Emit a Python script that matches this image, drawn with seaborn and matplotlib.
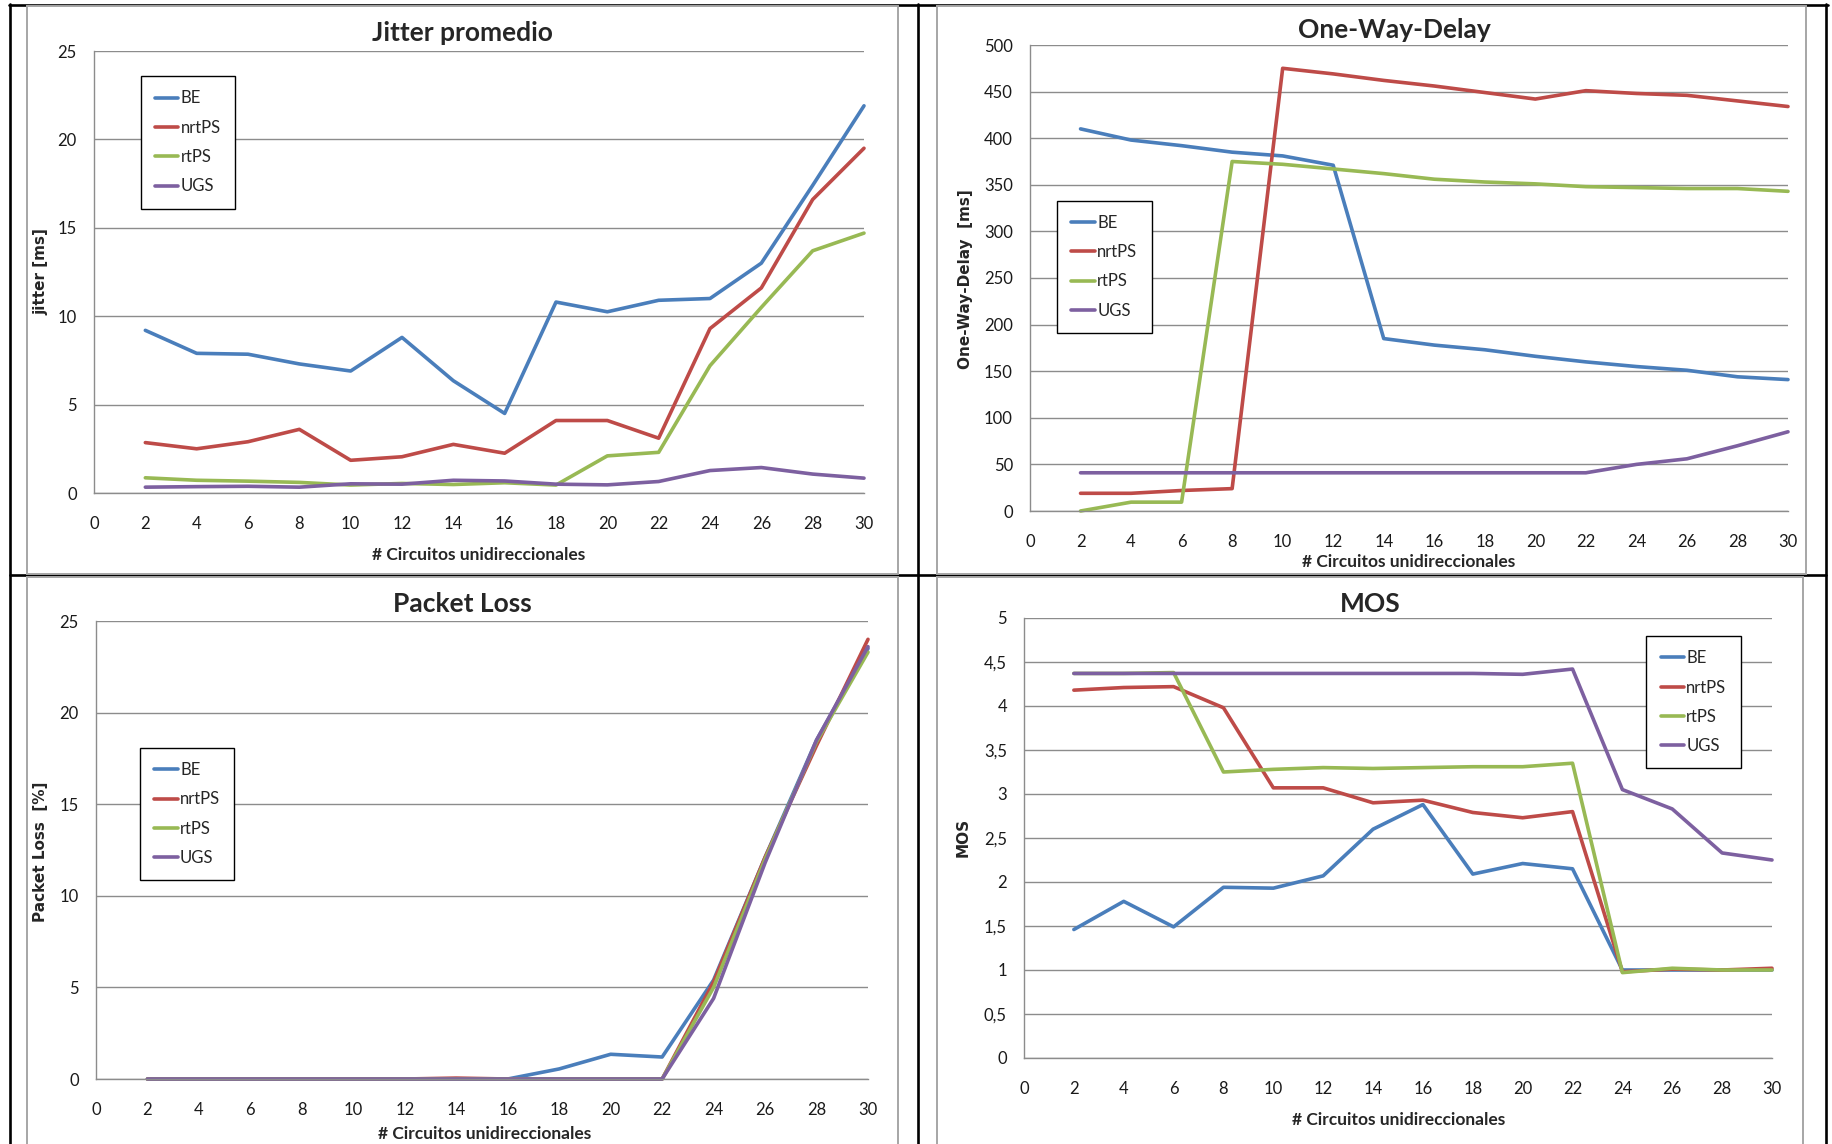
import matplotlib
matplotlib.use("Agg")
import matplotlib.pyplot as plt
import seaborn as sns
import numpy as np
import pandas as pd
from matplotlib.lines import Line2D
from matplotlib.patches import Rectangle
from matplotlib.ticker import FuncFormatter

# --- data ---
circuitos = [2, 4, 6, 8, 10, 12, 14, 16, 18, 20, 22, 24, 26, 28, 30]
servicios = ["BE", "nrtPS", "rtPS", "UGS"]
colores = ["#4a7ebb", "#be4b48", "#98b954", "#7d60a0"]

jitter_be = [9.2, 7.9, 7.85, 7.3, 6.9, 8.8, 6.35, 4.5, 10.8, 10.25, 10.9, 11.0, 13.0, 17.4, 21.9]
jitter_nrtps = [2.85, 2.5, 2.9, 3.6, 1.85, 2.05, 2.75, 2.25, 4.1, 4.1, 3.1, 9.3, 11.6, 16.6, 19.5]
jitter_rtps = [0.86, 0.72, 0.67, 0.6, 0.45, 0.54, 0.48, 0.58, 0.45, 2.1, 2.3, 7.2, 10.5, 13.7, 14.7]
jitter_ugs = [0.33, 0.36, 0.38, 0.33, 0.52, 0.5, 0.72, 0.68, 0.5, 0.46, 0.65, 1.27, 1.44, 1.07, 0.84]

delay_be = [410, 398, 392, 385, 381, 371, 185, 178, 173, 166, 160, 155, 151, 144, 141]
delay_nrtps = [19, 19, 22, 24, 475, 469, 462, 456, 449, 442, 451, 448, 446, 440, 434]
delay_rtps = [0, 9.5, 9.5, 375, 372, 367, 362, 356, 353, 351, 348, 347, 346, 346, 343]
delay_ugs = [41, 41, 41, 41, 41, 41, 41, 41, 41, 41, 41, 50, 56, 70, 85]

loss_be = [0, 0, 0, 0, 0, 0, 0, 0, 0.55, 1.35, 1.2, 5.4, 12.1, 18.5, 23.5]
loss_nrtps = [0, 0, 0, 0, 0, 0, 0.05, 0, 0, 0, 0, 5.3, 12.1, 18.2, 24.0]
loss_rtps = [0, 0, 0, 0, 0, 0, 0, 0, 0, 0, 0, 5.0, 12.0, 18.4, 23.3]
loss_ugs = [0, 0, 0, 0, 0, 0, 0, 0, 0, 0, 0, 4.4, 11.8, 18.5, 23.6]

mos_be = [1.46, 1.78, 1.49, 1.94, 1.93, 2.07, 2.6, 2.88, 2.09, 2.21, 2.15, 1.0, 1.0, 1.0, 1.0]
mos_nrtps = [4.18, 4.21, 4.22, 3.98, 3.07, 3.07, 2.9, 2.93, 2.79, 2.73, 2.8, 0.98, 1.01, 1.0, 1.02]
mos_rtps = [4.37, 4.37, 4.38, 3.25, 3.28, 3.3, 3.29, 3.3, 3.31, 3.31, 3.35, 0.97, 1.02, 1.0, 1.0]
mos_ugs = [4.37, 4.37, 4.37, 4.37, 4.37, 4.37, 4.37, 4.37, 4.37, 4.36, 4.42, 3.05, 2.83, 2.33, 2.25]

W, H = 1833, 1144
GRIS = "#8c8c8c"

sns.set_style("white")
plt.rcParams["font.family"] = ["Lato", "DejaVu Sans"]

fig = plt.figure(figsize=(W / 100, H / 100), dpi=100)


def fx(x):
    return x / W


def fy(y):
    return 1 - y / H


# black table frame around the four charts
for (x0, y0, x1, y1) in [(9, 5, 1828, 5), (10, 4, 10, 1144), (918, 4, 918, 1144),
                         (1826, 4, 1826, 1144), (10, 575, 1826, 575)]:
    fig.add_artist(Line2D([fx(x0), fx(x1)], [fy(y0), fy(y1)], color="black",
                          lw=1.9, zorder=-2))

# gray chart areas
for (x0, y0, x1, y1) in [(27, 6, 898, 574), (937, 6, 1806, 574),
                         (27, 577, 898, 1150), (937, 577, 1803, 1150)]:
    fig.add_artist(Rectangle((fx(x0), fy(y1)), fx(x1) - fx(x0), fy(y0) - fy(y1),
                             transform=fig.transFigure, facecolor="white",
                             edgecolor="#a6a6a6", lw=1.4, zorder=-1))


def panel(rect, series, ymax, ystep, titulo, ylab, t_pos, xl_pos, yl_pos,
          leg_anchor, comma=False):
    x0, y0, x1, y1 = rect
    ax = fig.add_axes([fx(x0), fy(y1), fx(x1) - fx(x0), fy(y0) - fy(y1)])
    ax.set_facecolor("none")
    df = pd.DataFrame({
        "circuitos": circuitos * len(servicios),
        "valor": [v for s in series for v in s],
        "servicio": [n for n in servicios for _ in circuitos],
    })
    sns.lineplot(data=df, x="circuitos", y="valor", hue="servicio",
                 hue_order=servicios, palette=colores, linewidth=2.6, ax=ax)
    for ln in ax.lines:
        ln.set_clip_on(False)
        ln.set_solid_joinstyle("round")
    ax.set_xlim(0, 30)
    ax.set_ylim(0, ymax)
    ax.set_xticks(np.arange(0, 31, 2))
    ax.set_yticks(np.arange(0, ymax + ystep / 2, ystep))
    if comma:
        ax.yaxis.set_major_formatter(FuncFormatter(lambda v, p: f"{v:g}".replace(".", ",")))
    ax.set_xlabel("")
    ax.set_ylabel("")
    ax.set_axisbelow(True)
    ax.grid(axis="y", color=GRIS, lw=1)
    ax.grid(axis="x", visible=False)
    for s in ["top", "right"]:
        ax.spines[s].set_visible(False)
    for s in ["left", "bottom"]:
        ax.spines[s].set_color(GRIS)
        ax.spines[s].set_linewidth(1)
    ax.tick_params(axis="both", direction="out", length=4.3, color=GRIS, width=1,
                   labelsize=12, labelcolor="#1a1a1a")
    ax.tick_params(axis="x", pad=12)
    ax.tick_params(axis="y", pad=8)

    handles, labels = ax.get_legend_handles_labels()
    leg = ax.legend(handles, labels, loc="upper left", bbox_to_anchor=leg_anchor,
                    borderaxespad=0, frameon=True, fancybox=False, framealpha=1,
                    edgecolor="black", fontsize=12, handlelength=1.4,
                    handletextpad=0.15, labelspacing=0.8, borderpad=0.85)
    leg.get_frame().set_linewidth(1)

    fig.text(fx(t_pos[0]), fy(t_pos[1]), titulo, ha="center", va="center",
             fontsize=19, fontweight="bold")
    fig.text(fx(xl_pos[0]), fy(xl_pos[1]), "# Circuitos unidireccionales",
             ha="center", va="center", fontsize=12.5, fontweight="bold")
    fig.text(fx(yl_pos[0]), fy(yl_pos[1]), ylab, ha="center", va="center",
             rotation=90, fontsize=11, fontweight="bold",
             family=["DejaVu Sans"])
    return ax


panel((94, 51, 864, 493), [jitter_be, jitter_nrtps, jitter_rtps, jitter_ugs],
      25, 5, "Jitter promedio", "jitter [ms]",
      (462, 33), (479, 555), (41, 272), (0.061, 0.943))

panel((1030, 45, 1788, 511), [delay_be, delay_nrtps, delay_rtps, delay_ugs],
      500, 50, "One-Way-Delay", "One-Way-Delay  [ms]",
      (1394, 30), (1409, 562), (966, 279), (0.036, 0.666))

panel((96, 621, 868, 1079), [loss_be, loss_nrtps, loss_rtps, loss_ugs],
      25, 5, "Packet Loss", "Packet Loss  [%]",
      (462, 604), (485, 1134), (41, 852), (0.057, 0.723))

panel((1024, 618, 1772, 1058), [mos_be, mos_nrtps, mos_rtps, mos_ugs],
      5, 0.5, "MOS", "MOS",
      (1370, 604), (1399, 1120), (963, 837), (0.832, 0.959), comma=True)

fig.savefig("out.png", dpi=100, facecolor="white")
